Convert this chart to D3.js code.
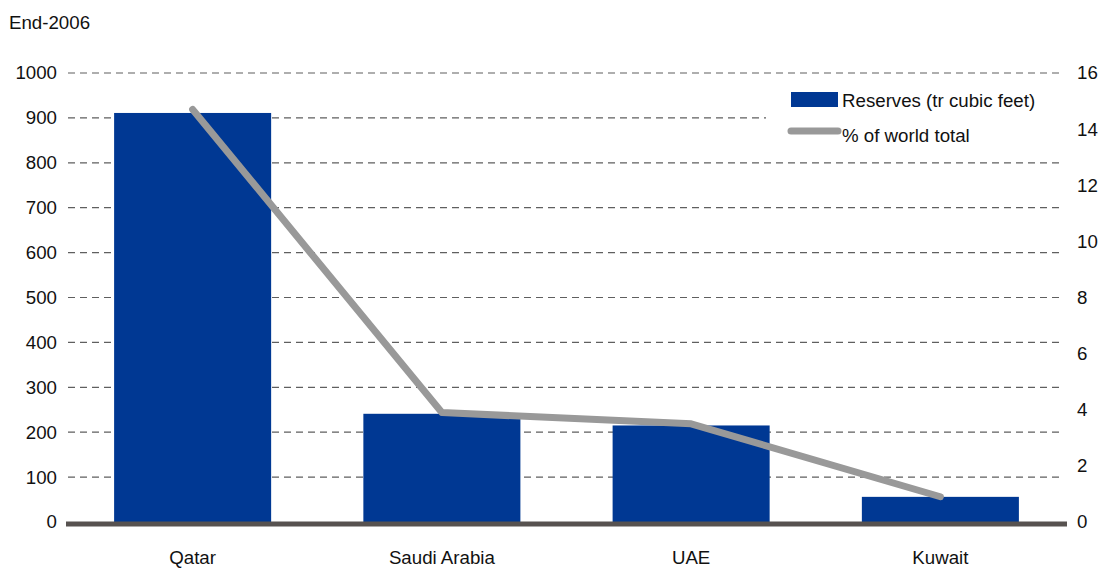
<!DOCTYPE html>
<html>
<head>
<meta charset="utf-8">
<script src="https://cdn.jsdelivr.net/npm/d3@7"></script>
<style>
  html, body { margin: 0; padding: 0; background: #fff; }
  svg { display: block; font-family: "Liberation Sans", Arial, sans-serif; }
</style>
</head>
<body>
<svg id="chart" width="1107" height="569"></svg>
<script>
// Gas reserves by country, end-2006
const countries = ["Qatar", "Saudi Arabia", "UAE", "Kuwait"];
const reserves = [911, 241, 215, 56];          // trillion cubic feet
const worldShare = [14.7, 3.9, 3.5, 0.9];      // % of world total
const leftTicks = [0, 100, 200, 300, 400, 500, 600, 700, 800, 900, 1000];
const rightTicks = [0, 2, 4, 6, 8, 10, 12, 14, 16];
const legendLabels = ["Reserves (tr cubic feet)", "% of world total"];

const FONT = 18.7;
const svg = d3.select("#chart");
const plot = { left: 68, right: 1065, top: 73, bottom: 522 };

const x = d3.scaleBand().domain(countries).range([plot.left, plot.right]).paddingInner(0.37).paddingOuter(0.185);
const yL = d3.scaleLinear().domain([0, 1000]).range([plot.bottom, plot.top]);
const yR = d3.scaleLinear().domain([0, 16]).range([plot.bottom, plot.top]);

// Dashed gridlines
svg.append("g")
  .selectAll("line")
  .data(leftTicks.filter(d => d > 0))
  .join("line")
  .attr("x1", plot.left).attr("x2", 1060)
  .attr("y1", d => yL(d)).attr("y2", d => yL(d))
  .attr("stroke", "#5f5f5f").attr("stroke-width", 1.2)
  .attr("stroke-dasharray", "7,5");

// Left axis
const leftAxis = svg.append("g")
  .attr("transform", `translate(${plot.left},0)`)
  .call(d3.axisLeft(yL).tickValues(leftTicks).tickSize(0).tickPadding(11).tickFormat(d3.format("d")));
leftAxis.select(".domain").remove();
leftAxis.selectAll("text").attr("font-size", FONT).attr("fill", "#111").attr("font-family", "Liberation Sans, Arial, sans-serif");

// Right axis
const rightAxis = svg.append("g")
  .attr("transform", `translate(${plot.right + 12},0)`)
  .call(d3.axisRight(yR).tickValues(rightTicks).tickSize(0).tickPadding(0).tickFormat(d3.format("d")));
rightAxis.select(".domain").remove();
rightAxis.selectAll("text").attr("font-size", FONT).attr("fill", "#111").attr("font-family", "Liberation Sans, Arial, sans-serif");

// Legend background hides gridlines behind it
svg.append("rect")
  .attr("x", 766).attr("y", 84).attr("width", 300).attr("height", 62)
  .attr("fill", "#fff");

// Bars
svg.append("g")
  .selectAll("rect")
  .data(countries)
  .join("rect")
  .attr("x", d => x(d))
  .attr("width", x.bandwidth())
  .attr("y", (d, i) => yL(reserves[i]))
  .attr("height", (d, i) => plot.bottom - yL(reserves[i]))
  .attr("fill", "#003893");

// Baseline
svg.append("line")
  .attr("x1", plot.left - 2).attr("x2", plot.right + 2)
  .attr("y1", plot.bottom + 2).attr("y2", plot.bottom + 2)
  .attr("stroke", "#575250").attr("stroke-width", 5);

// Share line
const line = d3.line()
  .x((d, i) => x(countries[i]) + x.bandwidth() / 2)
  .y(d => yR(d));
svg.append("path")
  .datum(worldShare)
  .attr("d", line)
  .attr("fill", "none")
  .attr("stroke", "#999999")
  .attr("stroke-width", 7)
  .attr("stroke-linecap", "round")
  .attr("stroke-linejoin", "round");

// Category labels
svg.append("g")
  .selectAll("text")
  .data(countries)
  .join("text")
  .attr("x", d => x(d) + x.bandwidth() / 2)
  .attr("y", 564)
  .attr("text-anchor", "middle")
  .attr("font-size", FONT)
  .attr("fill", "#111")
  .text(d => d);

// Unit/date label
svg.append("text")
  .attr("x", 9).attr("y", 29)
  .attr("font-size", FONT).attr("fill", "#111")
  .text("End-2006");

// Legend
const legend = svg.append("g");
legend.append("rect")
  .attr("x", 791).attr("y", 92).attr("width", 47).attr("height", 15)
  .attr("fill", "#003893");
legend.append("line")
  .attr("x1", 791).attr("x2", 838).attr("y1", 131).attr("y2", 131)
  .attr("stroke", "#999999").attr("stroke-width", 7).attr("stroke-linecap", "round");
legend.selectAll("text")
  .data(legendLabels)
  .join("text")
  .attr("x", 842)
  .attr("y", (d, i) => 107 + i * 35)
  .attr("font-size", FONT).attr("fill", "#111")
  .text(d => d);
</script>
</body>
</html>
